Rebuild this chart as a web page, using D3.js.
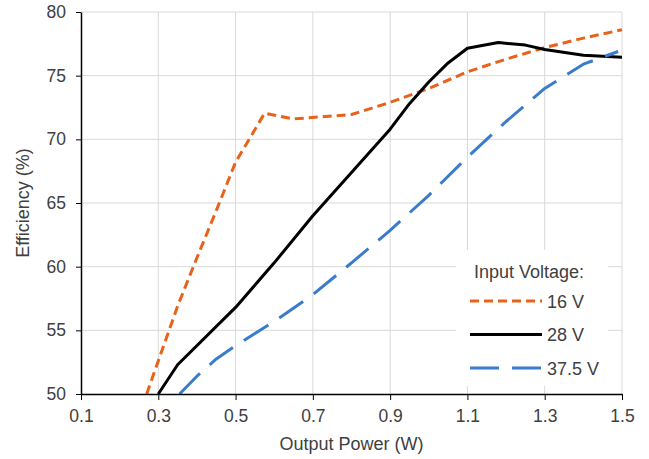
<!DOCTYPE html>
<html lang="en">
<head>
    <meta charset="UTF-8">
    <title>Efficiency vs Output Power</title>
    <script type="text/javascript" src="https://cdn.jsdelivr.net/npm/d3@7/dist/d3.min.js"></script>
    <style>
        body {
            margin: 0;
            background: #fff;
            font-family: Arial, "Liberation Sans", sans-serif;
        }
        .tick text {
            font-size: 17.5px;
            fill: #404040;
        }
        .grid line {
            stroke: #d9d9d9;
            stroke-width: 1;
        }
    </style>
</head>
<body>
    <div id="chart"></div>

    <script>
        // Data
        const xTicks = [0.1, 0.3, 0.5, 0.7, 0.9, 1.1, 1.3, 1.5];
        const yTicks = [50, 55, 60, 65, 70, 75, 80];

        const power16 = [0.27, 0.30, 0.35, 0.40, 0.45, 0.50, 0.575, 0.65, 0.80, 0.90, 1.00, 1.10, 1.20, 1.30, 1.40, 1.50];
        const eff16   = [50.0, 52.6, 56.9, 60.7, 64.4, 68.2, 72.05, 71.6, 71.95, 72.9, 74.0, 75.3, 76.3, 77.2, 77.95, 78.6];

        const power28 = [0.30, 0.35, 0.50, 0.60, 0.70, 0.80, 0.90, 0.95, 1.00, 1.05, 1.10, 1.18, 1.25, 1.30, 1.40, 1.50];
        const eff28   = [50.0, 52.3, 56.8, 60.3, 64.0, 67.4, 70.8, 72.8, 74.5, 76.0, 77.15, 77.6, 77.4, 77.05, 76.6, 76.45];

        const power375 = [0.355, 0.40, 0.45, 0.50, 0.55, 0.60, 0.70, 0.80, 0.90, 1.00, 1.10, 1.20, 1.30, 1.40, 1.49];
        const eff375   = [50.0, 51.4, 52.75, 53.8, 54.75, 55.7, 57.8, 60.3, 62.85, 65.6, 68.6, 71.4, 74.0, 75.9, 76.9];

        const seriesNames = ['16 V', '28 V', '37.5 V'];
        const seriesColors = ['#e8621a', '#000000', '#3a7ccb'];
        const seriesDash = ['9,5', null, '29,13'];

        const series = [
            power16.map((p, i) => ({ x: p, y: eff16[i] })),
            power28.map((p, i) => ({ x: p, y: eff28[i] })),
            power375.map((p, i) => ({ x: p, y: eff375[i] }))
        ];

        const width = 649, height = 459;
        const margin = { left: 81, right: 27, top: 12, bottom: 65 };
        const innerW = width - margin.left - margin.right;
        const innerH = height - margin.top - margin.bottom;

        const svg = d3.select('#chart')
            .append('svg')
            .attr('width', width)
            .attr('height', height);

        const g = svg.append('g')
            .attr('transform', `translate(${margin.left},${margin.top})`);

        const x = d3.scaleLinear().domain([0.1, 1.5]).range([0, innerW]);
        const y = d3.scaleLinear().domain([50, 80]).range([innerH, 0]);

        // gridlines
        g.append('g')
            .attr('class', 'grid')
            .selectAll('line.h')
            .data(yTicks.slice(1))
            .enter()
            .append('line')
            .attr('x1', 0).attr('x2', innerW)
            .attr('y1', d => y(d)).attr('y2', d => y(d));

        g.append('g')
            .attr('class', 'grid')
            .selectAll('line.v')
            .data(xTicks.slice(1))
            .enter()
            .append('line')
            .attr('x1', d => x(d)).attr('x2', d => x(d))
            .attr('y1', 0).attr('y2', innerH);

        // lines
        const line = d3.line()
            .x(d => x(d.x))
            .y(d => y(d.y));

        series.forEach((s, i) => {
            g.append('path')
                .datum(s)
                .attr('fill', 'none')
                .attr('stroke', seriesColors[i])
                .attr('stroke-width', 3)
                .attr('stroke-dasharray', seriesDash[i])
                .attr('stroke-linejoin', 'round')
                .attr('d', line);
        });

        // axes
        const xAxis = g.append('g')
            .attr('transform', `translate(0,${innerH})`)
            .call(d3.axisBottom(x).tickValues(xTicks).tickFormat(d3.format('.1f')).tickSize(6).tickSizeOuter(0));
        xAxis.select('.domain').attr('stroke', '#000').attr('stroke-width', 1.5);
        xAxis.selectAll('.tick line').attr('stroke', '#000');
        xAxis.selectAll('.tick text').attr('dy', null).attr('y', 28);

        const yAxis = g.append('g')
            .call(d3.axisLeft(y).tickValues(yTicks).tickSize(5).tickSizeOuter(0));
        yAxis.select('.domain').attr('stroke', '#000').attr('stroke-width', 1.5);
        yAxis.selectAll('.tick line').attr('stroke', '#000');
        yAxis.selectAll('.tick text').attr('x', -15);

        // axis titles
        svg.append('text')
            .attr('x', margin.left + innerW / 2)
            .attr('y', 450)
            .attr('text-anchor', 'middle')
            .attr('font-size', 18)
            .attr('fill', '#404040')
            .text('Output Power (W)');

        svg.append('text')
            .attr('transform', `translate(29,${margin.top + innerH / 2}) rotate(-90)`)
            .attr('text-anchor', 'middle')
            .attr('font-size', 18)
            .attr('fill', '#404040')
            .text('Efficiency (%)');

        // legend
        const legend = svg.append('g').attr('transform', 'translate(456,250)');
        legend.append('rect')
            .attr('width', 152)
            .attr('height', 136)
            .attr('fill', '#fff');
        legend.append('text')
            .attr('x', 18)
            .attr('y', 28)
            .attr('font-size', 18)
            .attr('fill', '#404040')
            .text('Input Voltage:');

        seriesNames.forEach((name, i) => {
            const ly = 51 + i * 33.5;
            legend.append('line')
                .attr('x1', 14).attr('x2', 86)
                .attr('y1', ly).attr('y2', ly)
                .attr('stroke', seriesColors[i])
                .attr('stroke-width', 3)
                .attr('stroke-dasharray', seriesDash[i]);
            legend.append('text')
                .attr('x', 91)
                .attr('y', ly + 6.5)
                .attr('font-size', 18)
                .attr('fill', '#404040')
                .text(name);
        });
    </script>
</body>
</html>
